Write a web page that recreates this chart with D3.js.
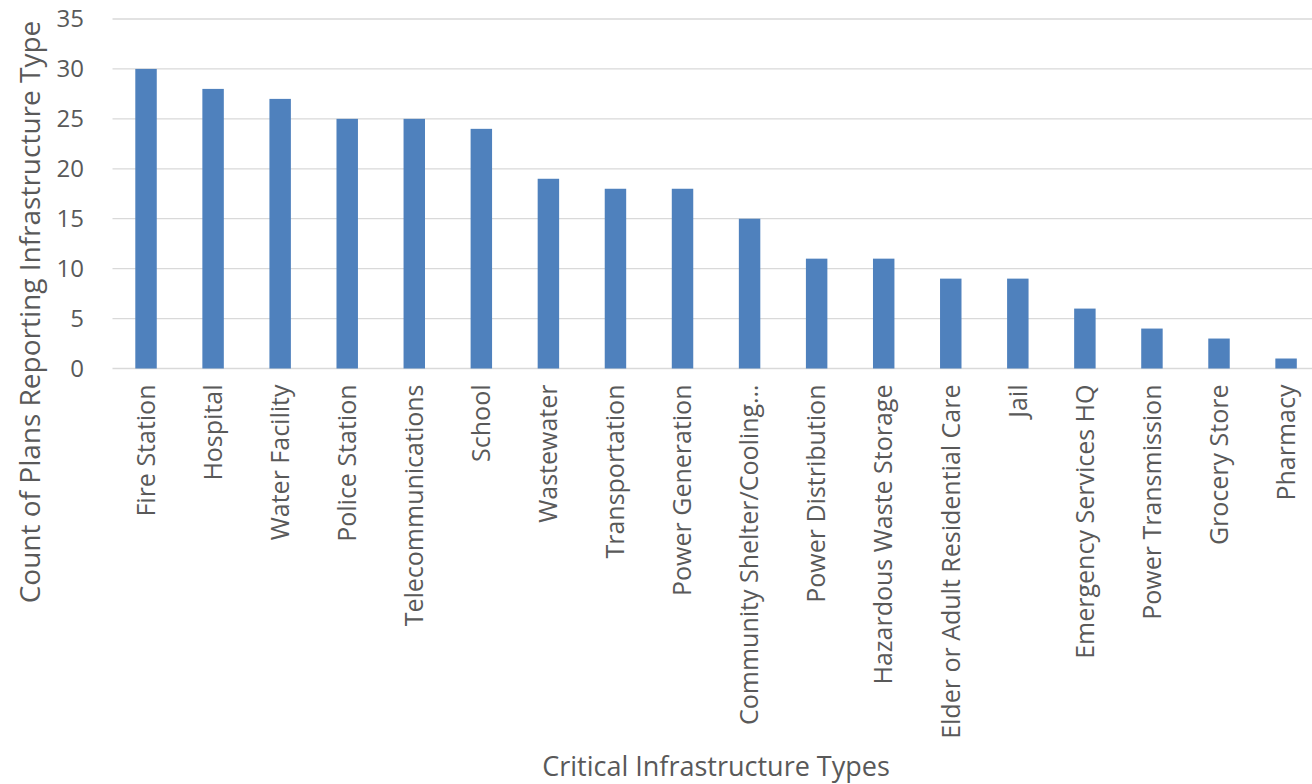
<!DOCTYPE html>
<html>
<head>
<meta charset="utf-8">
<script src="https://cdn.jsdelivr.net/npm/d3@7"></script>
<style>
  body { margin: 0; background: #fff; }
  text { font-family: "Open Sans", "Noto Sans", sans-serif; fill: #595959; }
</style>
</head>
<body>
<div id="chart"></div>
<script>
var categories = ["Fire Station", "Hospital", "Water Facility", "Police Station",
  "Telecommunications", "School", "Wastewater", "Transportation", "Power Generation",
  "Community Shelter/Cooling\u2026", "Power Distribution", "Hazardous Waste Storage",
  "Elder or Adult Residential Care", "Jail", "Emergency Services HQ",
  "Power Transmission", "Grocery Store", "Pharmacy"];
var counts = [30, 28, 27, 25, 25, 24, 19, 18, 18, 15, 11, 11, 9, 9, 6, 4, 3, 1];
var yTicks = [0, 5, 10, 15, 20, 25, 30, 35];

var width = 1312, height = 784;
var plotLeft = 112.5, plotRight = 1319.6, plotTop = 19, plotBottom = 368.5;

var svg = d3.select("#chart")
  .append("svg")
    .attr("width", width)
    .attr("height", height);

var x = d3.scaleBand()
    .domain(categories)
    .range([plotLeft, plotRight])
    .paddingInner(0.68)
    .paddingOuter(0.34);

var y = d3.scaleLinear()
    .domain([0, 35])
    .range([plotBottom, plotTop]);

// gridlines
svg.append("g")
  .selectAll("line")
  .data(yTicks)
  .enter().append("line")
    .attr("x1", plotLeft)
    .attr("x2", width)
    .attr("y1", function(d) { return y(d); })
    .attr("y2", function(d) { return y(d); })
    .style("stroke", "#d9d9d9")
    .style("stroke-width", 1.3);

// y axis labels
var yAxis = d3.axisLeft(y).tickValues(yTicks).tickSize(0).tickPadding(0);
var gy = svg.append("g")
    .attr("transform", "translate(84,0)")
    .call(yAxis);
gy.select(".domain").remove();
gy.selectAll("text")
    .style("font-family", "'Open Sans', sans-serif")
    .style("font-size", "24px")
    .style("fill", "#595959");

// bars
svg.append("g")
  .selectAll("rect")
  .data(counts)
  .enter().append("rect")
    .attr("x", function(d, i) { return x(categories[i]); })
    .attr("y", function(d) { return y(d); })
    .attr("width", x.bandwidth())
    .attr("height", function(d) { return y(0) - y(d); })
    .style("fill", "#4f81bd");

// x axis labels
var xAxis = d3.axisBottom(x).tickSize(0).tickPadding(0);
var gx = svg.append("g")
    .attr("transform", "translate(0," + plotBottom + ")")
    .call(xAxis);
gx.select(".domain").remove();
gx.selectAll("text")
    .attr("transform", "rotate(-90)")
    .attr("x", -16)
    .attr("y", 0)
    .attr("dy", "0.35em")
    .style("text-anchor", "end")
    .style("font-family", "'Open Sans', sans-serif")
    .style("font-size", "25px")
    .style("fill", "#595959");

// axis titles
svg.append("text")
    .attr("transform", "translate(40,312) rotate(-90)")
    .style("text-anchor", "middle")
    .style("font-size", "28px")
    .text("Count of Plans Reporting Infrastructure Type");

svg.append("text")
    .attr("x", 716)
    .attr("y", 776)
    .style("text-anchor", "middle")
    .style("font-size", "27px")
    .text("Critical Infrastructure Types");
</script>
</body>
</html>
